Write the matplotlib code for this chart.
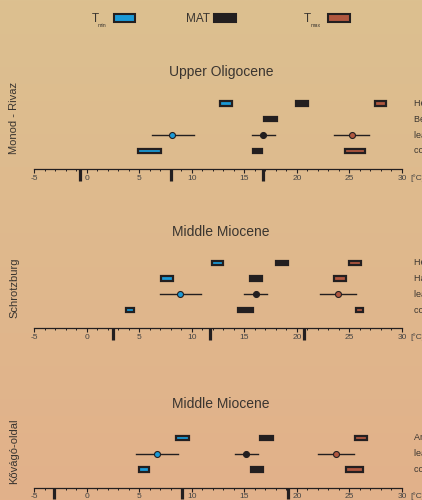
import numpy as np
import matplotlib.pyplot as plt
import matplotlib.patches as patches

plt.rcParams['font.family'] = ['Liberation Sans', 'DejaVu Sans']
plt.rcParams['axes.unicode_minus'] = False

BLUE = '#1b9ad7'
DARK = '#231f20'
RED = '#b0573f'
TEXT = '#3a3530'

# values in degC; 2-tuple = range box, 3-tuple = (estimate, low, high)
# Monod - Rivaz, Upper Oligocene (bottom row first)
p1_rows = ['coexistence approach', 'leaf physiognomy', 'Berger 1957', 'Heer 1855']
p1_tmin = [(4.9, 7.05), (8.15, 6.2, 10.2), None, (12.7, 13.8)]
p1_mat = [(15.8, 16.7), (16.8, 15.7, 17.9), (16.9, 18.1), (19.9, 21.1)]
p1_tmax = [(24.6, 26.5), (25.2, 23.5, 26.9), None, (27.4, 28.5)]
p1_marks = [-0.6, 8.0, 16.8]

# Schrotzburg, Middle Miocene
p2_rows = ['coexistence approach', 'leaf physiognomy', 'Hantke 1954', 'Heer 1855']
p2_tmin = [(3.75, 4.55), (8.9, 6.95, 10.9), (7.05, 8.2), (11.9, 13.0)]
p2_mat = [(14.4, 15.8), (16.1, 15.0, 17.2), (15.55, 16.7), (18.05, 19.2)]
p2_tmax = [(25.6, 26.3), (23.9, 22.2, 25.6), (23.5, 24.7), (25.0, 26.1)]
p2_marks = [2.55, 11.7, 20.7]

# Kővágó-oldal, Middle Miocene
p3_rows = ['coexistence approach', 'leaf physiognomy', 'Andreánszky 1959']
p3_tmin = [(5.0, 5.95), (6.7, 4.7, 8.7), (8.55, 9.7)]
p3_mat = [(15.6, 16.8), (15.2, 14.1, 16.3), (16.5, 17.7)]
p3_tmax = [(24.7, 26.3), (23.7, 22.0, 25.4), (25.55, 26.7)]
p3_marks = [-3.1, 9.1, 19.2]

YLO, YHI = -1.15, 3.9
BOX_H = 0.28


def draw_panel(ax, rows, tmin, mat, tmax, marks):
    ax.set_xlim(-5, 30)
    ax.set_ylim(YLO, YHI)
    ax.patch.set_alpha(0)
    for s in ['left', 'top', 'right']:
        ax.spines[s].set_visible(False)
    ax.spines['bottom'].set_color(DARK)
    ax.spines['bottom'].set_linewidth(0.9)
    ax.set_yticks([])
    ax.set_xticks(range(-5, 31, 5))
    ax.set_xticks(range(-5, 31), minor=True)
    ax.tick_params(axis='x', which='major', length=3, width=0.8, color=DARK,
                   labelsize=6, labelcolor='#444444', pad=1)
    ax.tick_params(axis='x', which='minor', length=1.6, width=0.7, color=DARK)

    for i, row in enumerate(rows):
        for vals, col in ((tmin[i], BLUE), (mat[i], DARK), (tmax[i], RED)):
            if vals is None:
                continue
            if len(vals) == 2:
                ax.add_patch(patches.Rectangle((vals[0], i - BOX_H / 2), vals[1] - vals[0], BOX_H,
                                               facecolor=col, edgecolor=DARK, lw=1.6, zorder=3))
            else:
                ax.plot([vals[1], vals[2]], [i, i], color=DARK, lw=1.0, zorder=2)
                ax.plot(vals[0], i, 'o', ms=4.3, mfc=col, mec=DARK, mew=0.8, zorder=3)
        # row labels run off the right edge, as in the original figure
        ax.text(31.1, i, row, va='center', ha='left', fontsize=6.5, color=TEXT, clip_on=False)

    for m in marks:
        ax.plot([m, m], [YLO, YLO - 0.74], color=DARK, lw=2.3, solid_capstyle='butt', clip_on=False)
    ax.text(30.75, YLO - 0.32, '[°C]', ha='left', va='top', fontsize=6, color='#444444', clip_on=False)


def main():
    W, H = 422, 500
    fig = plt.figure(figsize=(W / 100, H / 100), dpi=100)

    # background gradient
    bg = fig.add_axes([0, 0, 1, 1], zorder=-10)
    top = np.array([220, 192, 144]) / 255
    bot = np.array([226, 177, 138]) / 255
    t = np.linspace(0, 1, 256)[:, None]
    grad = top[None, :] * (1 - t) + bot[None, :] * t
    bg.imshow(grad[:, None, :], aspect='auto', extent=[0, 1, 0, 1])
    bg.axis('off')

    left = 34 / W
    width = 368 / W
    height = (YHI - YLO) * 15.8 / H
    panels = [
        (169.0, 'Upper Oligocene', 72, 'Monod - Rivaz', 118, p1_rows, p1_tmin, p1_mat, p1_tmax, p1_marks),
        (328.3, 'Middle Miocene', 232, 'Schrotzburg', 288, p2_rows, p2_tmin, p2_mat, p2_tmax, p2_marks),
        (487.7, 'Middle Miocene', 404, 'Kővágó-oldal', 451, p3_rows, p3_tmin, p3_mat, p3_tmax, p3_marks),
    ]
    for spine_y, title, title_y, site, site_y, rows, tmin, mat, tmax, marks in panels:
        ax = fig.add_axes([left, 1 - spine_y / H, width, height])
        draw_panel(ax, rows, tmin, mat, tmax, marks)
        fig.text(221 / W, 1 - title_y / H, title, ha='center', va='center', fontsize=10, color=TEXT)
        fig.text(14 / W, 1 - site_y / H, site, ha='center', va='center', rotation=90,
                 fontsize=8, color=TEXT)

    # legend
    def legend_box(x0, x1, col):
        y0, y1 = 14.5, 22.0
        fig.patches.append(patches.Rectangle((x0 / W, 1 - y1 / H), (x1 - x0) / W, (y1 - y0) / H,
                                             facecolor=col, edgecolor=DARK, lw=1.5,
                                             transform=fig.transFigure, figure=fig))

    fig.text(91.5 / W, 1 - 18.5 / H, 'T', ha='left', va='center', fontsize=8.5, color=TEXT)
    fig.text(97.5 / W, 1 - 25.5 / H, 'min', ha='left', va='center', fontsize=3.8, color=TEXT)
    legend_box(114, 135, BLUE)
    fig.text(186 / W, 1 - 18.5 / H, 'MAT', ha='left', va='center', fontsize=8.5, color=TEXT)
    legend_box(214, 236, DARK)
    fig.text(304 / W, 1 - 18.5 / H, 'T', ha='left', va='center', fontsize=8.5, color=TEXT)
    fig.text(310.5 / W, 1 - 25.5 / H, 'max', ha='left', va='center', fontsize=3.8, color=TEXT)
    legend_box(328, 350, RED)

    fig.savefig('out.png', dpi=100)


if __name__ == '__main__':
    main()
